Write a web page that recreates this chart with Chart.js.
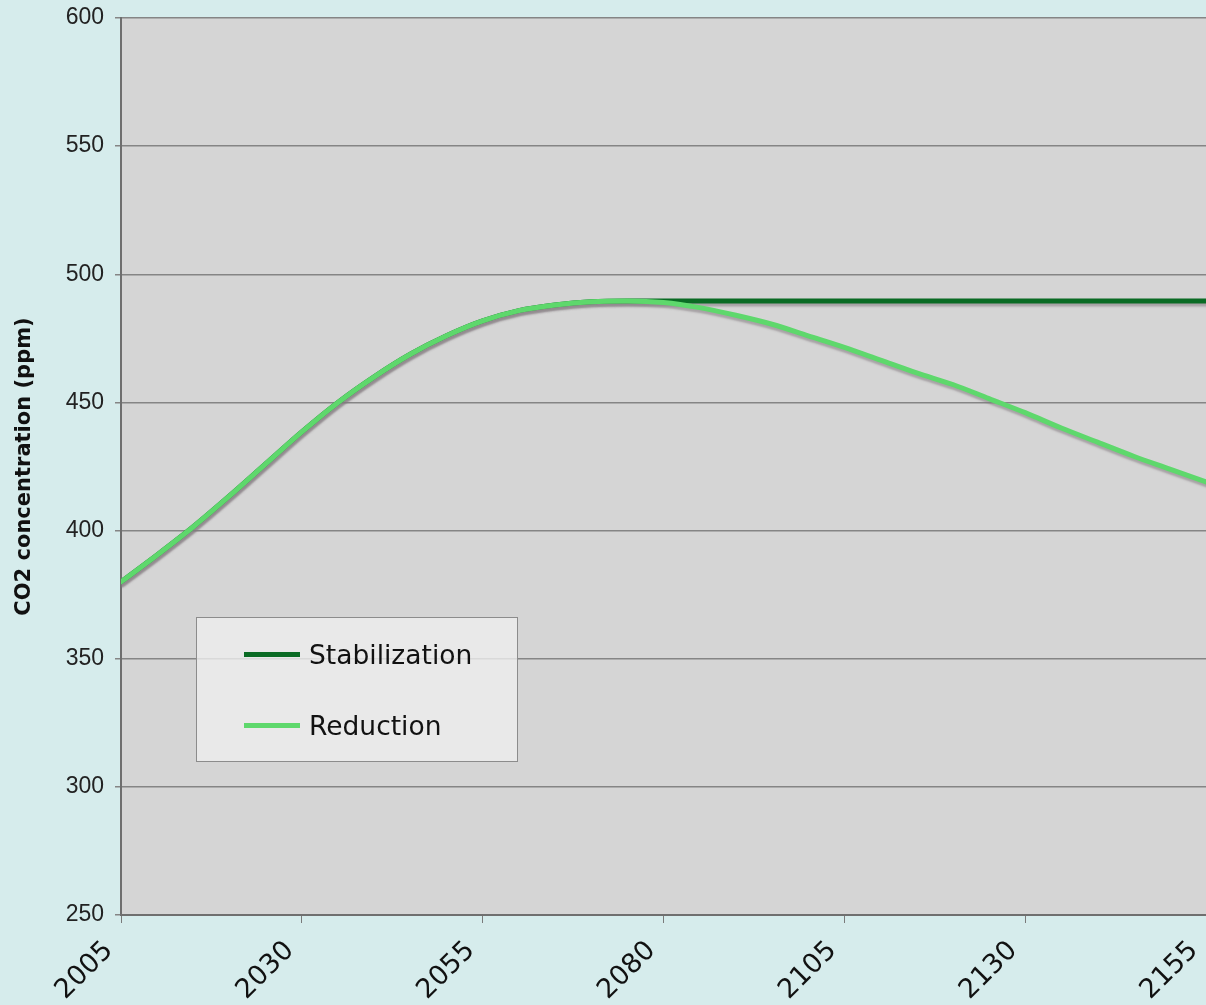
<!DOCTYPE html>
<html>
<head>
<meta charset="utf-8">
<script src="https://cdn.jsdelivr.net/npm/chart.js@4.4.1/dist/chart.umd.min.js"></script>
<style>
  html, body { margin: 0; padding: 0; background: #d6ecec; overflow: hidden; }
  #wrap { position: relative; width: 1206px; height: 1005px; }
  #legend {
    position: absolute; left: 196px; top: 617px; width: 322px; height: 145px;
    background: rgba(238,238,238,0.8); border: 1px solid #8c8c8c; box-sizing: border-box;
    font-family: "DejaVu Sans", Verdana, sans-serif; font-size: 26.5px; color: #111;
  }
  .row { position: absolute; left: 47px; height: 30px; display: flex; align-items: center; }
  .swatch { width: 56px; height: 5px; margin-right: 9px; }
</style>
</head>
<body>
<div id="wrap">
  <canvas id="chart-canvas" width="1206" height="1005"></canvas>
  <div id="legend"></div>
</div>
<script>
// series data (ppm), one value every 5 years
const years = [2005, 2010, 2015, 2020, 2025, 2030, 2035, 2040, 2045, 2050,
               2055, 2060, 2065, 2070, 2075, 2080, 2085, 2090, 2095, 2100,
               2105, 2110, 2115, 2120, 2125, 2130, 2135, 2140, 2145, 2150, 2155];
const stabilization = [380, 390.5, 401.5, 413.5, 426, 438.5, 450, 460, 468.8, 476,
                       481.8, 485.8, 488, 489.3, 489.6, 489.6, 489.6, 489.6, 489.6, 489.6,
                       489.6, 489.6, 489.6, 489.6, 489.6, 489.6, 489.6, 489.6, 489.6, 489.6, 489.6];
const reduction = [380, 390.5, 401.5, 413.5, 426, 438.5, 450, 460, 468.8, 476,
                   481.8, 485.8, 488, 489.3, 489.6, 489, 487, 484, 480.5, 476,
                   471.5, 466.5, 461.5, 457, 451.5, 446, 440, 434.5, 429, 424, 419];
const seriesNames = ['Stabilization', 'Reduction'];
const seriesColors = ['#0a6b24', '#5ed86c'];
const xTicks = [2005, 2030, 2055, 2080, 2105, 2130, 2155];
const yTicks = [250, 300, 350, 400, 450, 500, 550, 600];

const toPoints = arr => arr.map((v, i) => ({ x: years[i], y: v }));

const plotBg = {
    id: 'plotBg',
    beforeDraw(chart) {
        const a = chart.chartArea, ctx = chart.ctx;
        ctx.save();
        ctx.fillStyle = '#d5d5d5';
        ctx.fillRect(a.left, a.top, a.right - a.left, a.bottom - a.top);
        ctx.restore();
    }
};

// grey drop shadow under the lines
const lineShadow = {
    id: 'lineShadow',
    beforeDatasetDraw(chart) {
        const ctx = chart.ctx;
        ctx.save();
        ctx.shadowColor = 'rgba(130,120,125,0.55)';
        ctx.shadowOffsetX = 1;
        ctx.shadowOffsetY = 3;
        ctx.shadowBlur = 2;
    },
    afterDatasetDraw(chart) {
        chart.ctx.restore();
    }
};

new Chart(document.getElementById('chart-canvas'), {
    type: 'line',
    data: {
        datasets: [
            { label: seriesNames[0], data: toPoints(stabilization), borderColor: seriesColors[0], order: 1 },
            { label: seriesNames[1], data: toPoints(reduction), borderColor: seriesColors[1], order: 0 }
        ]
    },
    options: {
        responsive: false,
        animation: false,
        layout: { padding: { top: 18, left: 0, right: 0, bottom: 0 } },
        elements: {
            line: { borderWidth: 5, cubicInterpolationMode: 'monotone', borderCapStyle: 'round' },
            point: { radius: 0 }
        },
        plugins: { legend: { display: false }, tooltip: { enabled: false } },
        scales: {
            x: {
                type: 'linear',
                min: 2005,
                max: 2155,
                afterBuildTicks: s => { s.ticks = xTicks.map(v => ({ value: v })); },
                afterFit: s => { s.height = 90; s.paddingLeft = 0; s.paddingRight = 0; },
                grid: { drawOnChartArea: false, drawTicks: true, tickLength: 8, color: '#7a7a7a', lineWidth: 1 },
                border: { color: '#6f6f6f', width: 2 },
                ticks: {
                    minRotation: 45, maxRotation: 45, padding: 12, labelOffset: -12,
                    color: '#111',
                    font: { family: 'DejaVu Sans', size: 27 },
                    callback: v => String(v)
                }
            },
            y: {
                min: 250,
                max: 600,
                afterBuildTicks: s => { s.ticks = yTicks.map(v => ({ value: v })); },
                afterFit: s => { s.width = 121; s.paddingTop = 0; },
                grid: { color: '#858585', lineWidth: 1.5, tickLength: 6 },
                border: { color: '#6f6f6f', width: 2 },
                ticks: {
                    padding: 11,
                    color: '#222',
                    font: { family: 'Liberation Sans', size: 23 }
                },
                title: {
                    display: true,
                    text: 'CO2 concentration (ppm)',
                    color: '#111',
                    font: { family: 'DejaVu Sans', size: 21, weight: 'bold' },
                    padding: { top: 12, bottom: 0 }
                }
            }
        }
    },
    plugins: [plotBg, lineShadow]
});

// legend box inside the plot
const legend = document.getElementById('legend');
seriesNames.forEach((name, i) => {
    const row = document.createElement('div');
    row.className = 'row';
    row.style.top = (i === 0 ? 21 : 92) + 'px';
    row.innerHTML = '<div class="swatch" style="background:' + seriesColors[i] + '"></div><span>' + name + '</span>';
    legend.appendChild(row);
});
</script>
</body>
</html>
